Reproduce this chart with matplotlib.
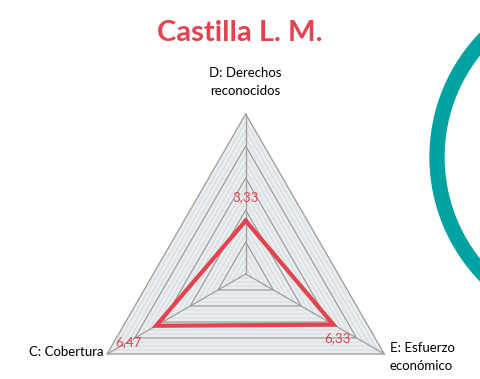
import numpy as np
import matplotlib.pyplot as plt
from matplotlib.patches import Circle

title = "Castilla L. M."
axis_labels = ["D: Derechos\nreconocidos", "C: Cobertura", "E: Esfuerzo\neconómico"]
values = [3.33, 6.47, 6.33]
value_labels = ["3,33", "6,47", "6,33"]
rings = [2, 4, 6, 8, 10]
fine_rings = np.arange(0.5, 10.01, 0.5)

red = "#e2434f"
grid_col = "#a59d9b"
fine_col = "#cfd2d4"

angles = np.deg2rad([90, 210, 330])


def tri(r):
    r = np.broadcast_to(r, angles.shape)
    x = r * np.cos(angles)
    y = r * np.sin(angles)
    return np.append(x, x[0]), np.append(y, y[0])


fig = plt.figure(figsize=(4.8, 3.79), dpi=100)
ax = fig.add_axes([0, 0, 1, 1])
ax.set_xlim(-245.7 / 16, (480 - 245.7) / 16)
ax.set_ylim(-105 / 16, (379 - 105) / 16)
ax.axis("off")

# background of the web
x, y = tri(10)
ax.fill(x, y, color="#e8eef0", zorder=1)
for r in fine_rings:
    x, y = tri(r)
    ax.plot(x, y, color=fine_col, lw=0.5, zorder=2)
for r in rings:
    x, y = tri(r)
    ax.plot(x, y, color=grid_col, lw=0.9, zorder=3)
for a in angles:
    ax.plot([0, 10 * np.cos(a)], [0, 10 * np.sin(a)], color=grid_col, lw=0.9, zorder=3)

# data
x, y = tri(np.array(values))
ax.plot(x, y, color=red, lw=3, solid_joinstyle="miter", zorder=4)

# value labels
for v, a, lab in zip(values, angles, value_labels):
    if lab == "6,47":
        px, py = 10 * np.cos(a) + 1.3, 10 * np.sin(a) + 0.75
    elif lab == "6,33":
        px, py = v * np.cos(a) + 0.25, v * np.sin(a) - 0.85
    else:
        px, py = v * np.cos(a), v * np.sin(a) + 1.45
    ax.text(px, py, lab, color=red, fontsize=9.5, family="Lato",
            ha="center", va="center", zorder=5)

# axis labels
ax.text(0, 12.0, axis_labels[0], fontsize=9.5, family="Lato", ha="center",
        va="center", linespacing=1.55)
ax.text(-8.9, -4.85, axis_labels[1], fontsize=9.5, family="Lato", ha="right",
        va="center")
ax.text(9.0, -5.2, axis_labels[2], fontsize=9.5, family="Lato", ha="left",
        va="center", linespacing=1.55)

ax.text(-0.35, 15.05, title, color=red, fontsize=21, fontweight="bold",
        family="Lato", ha="center", va="center")

# decorative teal ring at the right edge
ring = Circle(((608 - 245.7) / 16, (379 - 157 - 105) / 16), 171 / 16,
              fill=False, ec="#00a3a1", lw=11, zorder=6)
ax.add_patch(ring)

fig.savefig("out.png", dpi=100)
